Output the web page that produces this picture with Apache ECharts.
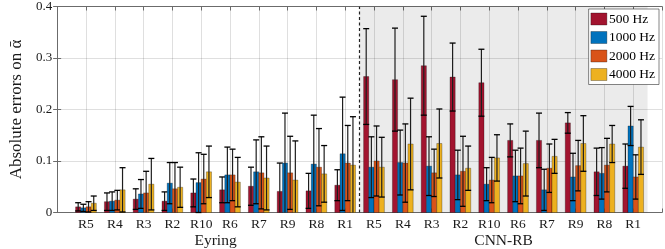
<!DOCTYPE html>
<html>
<head>
<meta charset="utf-8">
<script src="https://cdn.jsdelivr.net/npm/echarts@6/dist/echarts.min.js"></script>
<style>
html,body{margin:0;padding:0;background:#fff;}
#chart{width:665px;height:249px;}
</style>
</head>
<body>
<div id="chart"></div>
<script>
// ---- data ----
const categories = ['R5','R4','R3','R2','R10','R6','R7','R9','R8','R1',
                    'R5','R4','R3','R2','R10','R6','R7','R9','R8','R1'];
const groups = ['Eyring', 'CNN-RB'];
const seriesNames = ['500 Hz', '1000 Hz', '2000 Hz', '4000 Hz'];
const yTicks = ['0', '0.1', '0.2', '0.3', '0.4'];

const mean500  = [0.011,0.021,0.026,0.022,0.038,0.044,0.051,0.041,0.042,0.053, 0.264,0.258,0.285,0.263,0.252,0.140,0.140,0.174,0.079,0.090];
const std500   = [0.008,0.017,0.020,0.018,0.027,0.025,0.037,0.055,0.034,0.030, 0.093,0.100,0.096,0.066,0.065,0.032,0.053,0.020,0.046,0.043];
const mean1000 = [0.009,0.022,0.036,0.057,0.058,0.073,0.079,0.096,0.094,0.114, 0.088,0.097,0.090,0.073,0.055,0.071,0.044,0.069,0.076,0.168];
const std1000  = [0.007,0.018,0.028,0.040,0.058,0.054,0.062,0.097,0.095,0.110, 0.059,0.063,0.057,0.048,0.032,0.050,0.040,0.046,0.050,0.038];
const mean2000 = [0.011,0.024,0.038,0.046,0.065,0.073,0.077,0.077,0.088,0.096, 0.100,0.096,0.077,0.080,0.063,0.071,0.086,0.091,0.092,0.069];
const std2000  = [0.010,0.019,0.042,0.051,0.048,0.050,0.070,0.071,0.075,0.073, 0.068,0.076,0.046,0.068,0.044,0.054,0.047,0.049,0.052,0.043];
const mean4000 = [0.018,0.044,0.055,0.049,0.079,0.059,0.067,0.063,0.075,0.092, 0.088,0.133,0.134,0.086,0.106,0.095,0.109,0.134,0.133,0.127];
const std4000  = [0.014,0.043,0.050,0.039,0.050,0.048,0.062,0.076,0.055,0.094, 0.058,0.089,0.067,0.043,0.045,0.063,0.033,0.054,0.036,0.053];

const means = [mean500, mean1000, mean2000, mean4000];
const stds  = [std500, std1000, std2000, std4000];
const colors = ['#A2142F', '#0072BD', '#D95319', '#EDB120'];

// ---- layout constants (styles only) ----
const FONT = 'Liberation Serif';
const BAR_W = 0.18;               // bar width in category units
const offsets = [-1.5, -0.5, 0.5, 1.5].map(k => k * BAR_W);
const frameColor = '#6b6b6b';

const chart = echarts.init(document.getElementById('chart'), null, {renderer: 'canvas'});

function makeSeries(si) {
  const data = means[si].map((m, i) => [i + 1, m, stds[si][i]]);
  return {
    name: seriesNames[si],
    type: 'custom',
    z: 3,
    itemStyle: {color: colors[si]},
    data: data,
    encode: {x: 0, y: 1},
    renderItem: function (params, api) {
      const x = api.value(0) + offsets[si];
      const m = api.value(1);
      const s = api.value(2);
      const topLeft = api.coord([x - BAR_W / 2, m]);
      const botRight = api.coord([x + BAR_W / 2, 0]);
      const cx = api.coord([x, 0])[0];
      const capHalf = (botRight[0] - topLeft[0]) * 0.58;
      const hi = m + s;
      const lo = m - s;
      const yHi = api.coord([x, hi])[1];
      const yLo = api.coord([x, Math.max(lo, 0)])[1];
      const children = [
        {
          type: 'rect',
          shape: {x: topLeft[0], y: topLeft[1], width: botRight[0] - topLeft[0], height: botRight[1] - topLeft[1]},
          style: {fill: colors[si], stroke: 'rgba(0,0,0,0.55)', lineWidth: 0.5}
        },
        {
          type: 'line',
          shape: {x1: cx, y1: yHi, x2: cx, y2: yLo},
          style: {stroke: '#1e1e1e', lineWidth: 1.2}
        },
        {
          type: 'line',
          shape: {x1: cx - capHalf, y1: yHi, x2: cx + capHalf, y2: yHi},
          style: {stroke: '#000', lineWidth: 1.3}
        }
      ];
      if (lo >= 0) {
        children.push({
          type: 'line',
          shape: {x1: cx - capHalf, y1: yLo, x2: cx + capHalf, y2: yLo},
          style: {stroke: '#000', lineWidth: 1.3}
        });
      }
      return {type: 'group', children: children};
    }
  };
}

const option = {
  backgroundColor: '#fff',
  animation: false,
  grid: {left: 42, right: 2, top: 6, bottom: 36.5, containLabel: false},
  legend: {
    orient: 'vertical',
    right: 6,
    top: 9,
    itemWidth: 16,
    itemHeight: 12,
    itemGap: 4.5,
    padding: [3, 4, 3, 2],
    backgroundColor: '#fff',
    borderColor: '#333',
    borderWidth: 0.6,
    borderRadius: 0,
    icon: 'rect',
    textStyle: {fontFamily: FONT, fontSize: 13.5, color: '#000', padding: [0, 0, 0, -3]},
    data: seriesNames.map((n, i) => ({name: n, itemStyle: {color: colors[i], borderColor: 'rgba(0,0,0,0.6)', borderWidth: 0.5}}))
  },
  xAxis: [
    {
      type: 'value', min: 0, max: 21, interval: 1, position: 'bottom',
      axisLine: {show: true, onZero: false, lineStyle: {color: frameColor, width: 1}},
      axisTick: {show: true, inside: true, length: 4, lineStyle: {color: frameColor}},
      splitLine: {show: true, lineStyle: {color: 'rgba(38,38,38,0.15)', width: 1}},
      axisLabel: {
        margin: 5, fontFamily: FONT, fontSize: 13.5, color: '#1a1a1a',
        showMinLabel: true, showMaxLabel: true,
        formatter: v => (v >= 1 && v <= categories.length && Number.isInteger(v)) ? categories[v - 1] : ''
      }
    },
    {
      type: 'value', min: 0, max: 21, interval: 1, position: 'top',
      axisLine: {show: true, onZero: false, lineStyle: {color: frameColor, width: 1}},
      axisTick: {show: true, inside: true, length: 4, lineStyle: {color: frameColor}},
      splitLine: {show: false},
      axisLabel: {show: false}
    },
    {
      type: 'value', min: 0, max: 21, interval: 0.5, position: 'bottom',
      axisLine: {show: false}, axisTick: {show: false}, splitLine: {show: false},
      axisLabel: {
        margin: 20, fontFamily: FONT, fontSize: 15.5, color: '#1a1a1a',
        showMinLabel: true, showMaxLabel: true,
        formatter: v => v === 5.5 ? groups[0] : (v === 15.5 ? groups[1] : '')
      }
    }
  ],
  yAxis: [
    {
      type: 'value', min: 0, max: 0.4, interval: 0.1, position: 'left',
      name: 'Absolute errors on ᾱ',
      nameLocation: 'middle', nameGap: 23, nameRotate: 90,
      nameTextStyle: {fontFamily: FONT, fontSize: 17, color: '#1a1a1a'},
      axisLine: {show: true, lineStyle: {color: frameColor, width: 1}},
      axisTick: {show: true, inside: true, length: 4, lineStyle: {color: frameColor}},
      splitLine: {show: true, lineStyle: {color: 'rgba(38,38,38,0.15)', width: 1}},
      axisLabel: {
        margin: 5, fontFamily: FONT, fontSize: 13, color: '#1a1a1a',
        formatter: v => yTicks[Math.round(v * 10)]
      }
    },
    {
      type: 'value', min: 0, max: 0.4, interval: 0.1, position: 'right',
      axisLine: {show: true, lineStyle: {color: frameColor, width: 1}},
      axisTick: {show: true, inside: true, length: 4, lineStyle: {color: frameColor}},
      splitLine: {show: false},
      axisLabel: {show: false}
    }
  ],
  series: [
    {
      type: 'line',
      name: 'region',
      z: 1,
      data: [[0, 0]],
      showSymbol: false,
      symbolSize: 0,
      lineStyle: {opacity: 0},
      silent: true,
      markArea: {
        silent: true,
        itemStyle: {color: 'rgba(0,0,0,0.08)'},
        data: [[{xAxis: 10.5, yAxis: 0}, {xAxis: 20.5, yAxis: 0.4}]]
      },
      markLine: {
        silent: true,
        symbol: ['none', 'none'],
        label: {show: false},
        lineStyle: {color: '#222', type: [3, 2.5], width: 1.2},
        data: [{xAxis: 10.5}]
      }
    }
  ].concat([0, 1, 2, 3].map(makeSeries))
};

chart.setOption(option);
</script>
</body>
</html>
